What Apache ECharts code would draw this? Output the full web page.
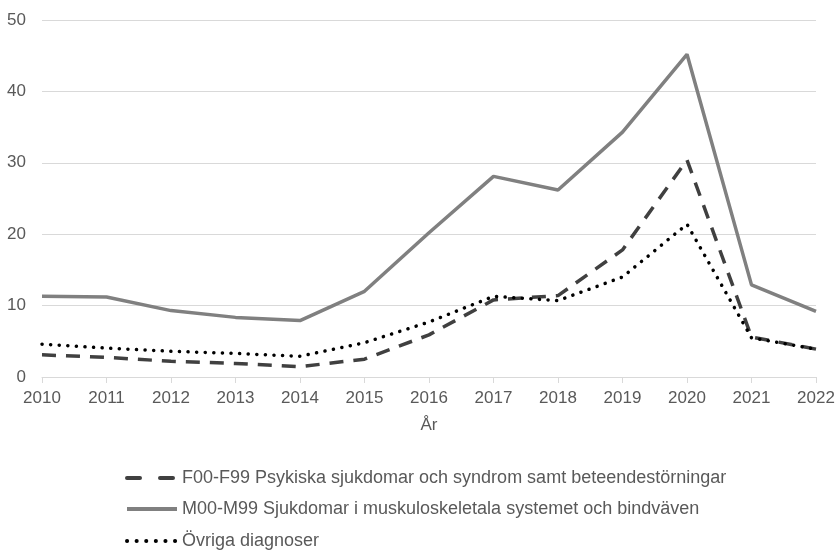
<!DOCTYPE html>
<html><head><meta charset="utf-8">
<script src="https://cdn.jsdelivr.net/npm/echarts@6/dist/echarts.min.js"></script>
<style>html,body{margin:0;padding:0;background:#fff}#c{width:838px;height:550px}</style>
</head><body><div id="c"></div>
<script>
const years = ['2010','2011','2012','2013','2014','2015','2016','2017','2018','2019','2020','2021','2022'];
const psykiska = [3.1, 2.75, 2.2, 1.9, 1.45, 2.5, 5.9, 10.8, 11.4, 17.8, 30.4, 5.6, 3.9];
const muskulo = [11.3, 11.2, 9.3, 8.35, 7.9, 12.0, 20.2, 28.1, 26.2, 34.3, 45.2, 12.9, 9.2];
const ovriga = [4.6, 4.05, 3.6, 3.3, 2.9, 4.8, 7.7, 11.3, 10.7, 14.0, 21.4, 5.5, 3.9];
const names = ['F00-F99 Psykiska sjukdomar och syndrom samt beteendestörningar',
  'M00-M99 Sjukdomar i muskuloskeletala systemet och bindväven',
  'Övriga diagnoser'];
const font = '"Liberation Sans", Arial, sans-serif';
const legendLines = [
  {width: 4, type: [13, 20], cap: 'round'},
  {width: 4, type: 'solid', cap: 'butt'},
  {width: 4, type: [0.1, 9.5], cap: 'round'}
];
const legendTops = [464, 495, 527];
const legends = names.map((n, i) => ({
  orient: 'vertical', left: 120, top: legendTops[i],
  itemWidth: 50, itemHeight: 16,
  itemStyle: {opacity: 0},
  lineStyle: legendLines[i],
  textStyle: {color: '#595959', fontSize: 18, fontFamily: font},
  data: [n]
}));
const chart = echarts.init(document.getElementById('c'));
chart.setOption({
  animation: false,
  grid: {left: 42, right: 22, top: 20, bottom: 173, containLabel: false},
  xAxis: {
    type: 'category', data: years, boundaryGap: false,
    name: 'År', nameLocation: 'middle', nameGap: 40,
    nameTextStyle: {color: '#595959', fontSize: 17, fontFamily: font},
    axisLine: {lineStyle: {color: '#d9d9d9', width: 1}},
    axisTick: {show: true, alignWithLabel: true, length: 6, lineStyle: {color: '#d9d9d9'}},
    axisLabel: {color: '#595959', fontSize: 17, fontFamily: font, margin: 13}
  },
  yAxis: {
    type: 'value', min: 0, max: 50, interval: 10,
    axisLine: {show: false}, axisTick: {show: false},
    axisLabel: {color: '#595959', fontSize: 17, fontFamily: font, margin: 16},
    splitLine: {lineStyle: {color: '#d9d9d9', width: 1}}
  },
  legend: legends,
  series: [
    {name: names[0], type: 'line', data: psykiska, symbol: 'none',
     lineStyle: {color: '#404040', width: 3.5, type: [14, 10]}, itemStyle: {color: '#404040'}},
    {name: names[1], type: 'line', data: muskulo, symbol: 'none',
     lineStyle: {color: '#808080', width: 3.5}, itemStyle: {color: '#808080'}},
    {name: names[2], type: 'line', data: ovriga, symbol: 'none',
     lineStyle: {color: '#000000', width: 3.5, type: [0.1, 8.5], cap: 'round'}, itemStyle: {color: '#000000'}}
  ]
});
</script></body></html>
